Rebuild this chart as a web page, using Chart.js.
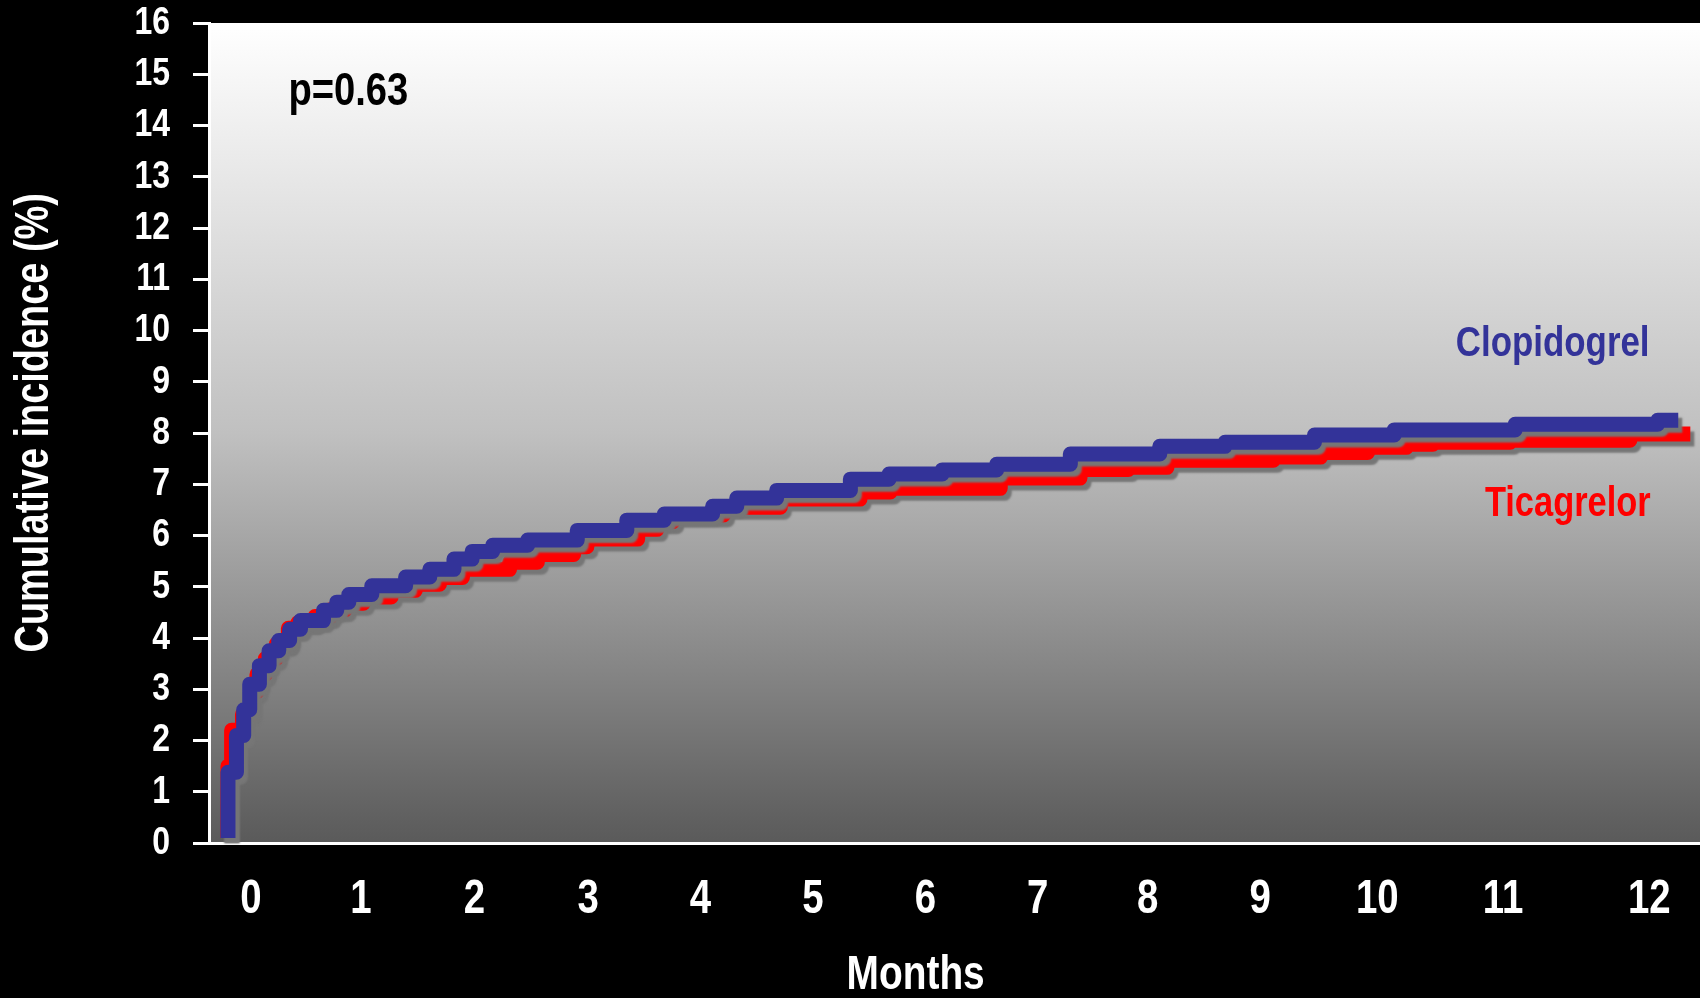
<!DOCTYPE html>
<html>
<head>
<meta charset="utf-8">
<script src="https://cdn.jsdelivr.net/npm/chart.js@4.4.1/dist/chart.umd.min.js"></script>
<style>
  html, body { margin: 0; padding: 0; background: #000; }
  canvas { display: block; }
</style>
</head>
<body>
<canvas id="kmChart" width="1700" height="998"></canvas>
<script>
// tick labels on the x axis and where the slide put them (in months)
const monthLabels = ['0', '1', '2', '3', '4', '5', '6', '7', '8', '9', '10', '11', '12'];
const monthTickAt = [0.19, 1.10, 2.04, 2.98, 3.91, 4.84, 5.77, 6.70, 7.61, 8.54, 9.51, 10.55, 11.76];

// Kaplan-Meier steps: month of step, cumulative incidence (%)
const clopidogrelMonths = [0, 0, 0.07, 0.13, 0.18, 0.26, 0.34, 0.42, 0.51, 0.60, 0.79, 0.90, 1.00, 1.19, 1.47, 1.67, 1.87, 2.02, 2.19, 2.48, 2.89, 3.30, 3.61, 4.01, 4.21, 4.54, 5.15, 5.47, 5.91, 6.36, 6.97, 7.71, 8.25, 8.99, 9.65, 10.65, 11.83, 12.0];
const clopidogrelPct = [0.1, 1.38, 2.10, 2.60, 3.10, 3.46, 3.75, 3.95, 4.17, 4.34, 4.54, 4.70, 4.85, 5.02, 5.19, 5.34, 5.54, 5.69, 5.81, 5.91, 6.10, 6.30, 6.42, 6.57, 6.73, 6.88, 7.10, 7.20, 7.28, 7.39, 7.59, 7.74, 7.82, 7.96, 8.06, 8.17, 8.25, 8.25];

const ticagrelorMonths = [0, 0, 0.03, 0.12, 0.19, 0.24, 0.31, 0.40, 0.50, 0.58, 0.72, 0.85, 0.97, 1.12, 1.35, 1.55, 1.75, 1.94, 2.33, 2.56, 2.86, 2.97, 3.39, 3.55, 3.68, 4.10, 4.57, 5.23, 5.48, 6.39, 7.05, 7.45, 7.77, 8.65, 9.04, 9.43, 9.75, 9.97, 10.61, 11.60, 12.10];
const ticagrelorPct = [0.1, 1.50, 2.20, 2.51, 2.95, 3.29, 3.60, 3.88, 4.19, 4.30, 4.42, 4.55, 4.68, 4.80, 4.93, 5.05, 5.18, 5.34, 5.48, 5.63, 5.78, 5.93, 6.12, 6.27, 6.40, 6.55, 6.71, 6.85, 6.92, 7.12, 7.29, 7.33, 7.47, 7.53, 7.62, 7.72, 7.78, 7.82, 7.86, 7.98, 7.98];

const fontFamily = "'Liberation Sans', Arial, sans-serif";

const toPoints = (xs, ys) => xs.map((x, i) => ({ x: x, y: ys[i] }));

// no narrow face installed, so squeeze bold Liberation Sans sideways
const narrowText = (ctx, text, x, y, size, color, align, sx, rot) => {
  ctx.save();
  ctx.translate(x, y);
  if (rot) ctx.rotate(rot);
  ctx.scale(sx, 1);
  ctx.font = `bold ${size}px ${fontFamily}`;
  ctx.fillStyle = color;
  ctx.textAlign = align;
  ctx.textBaseline = 'middle';
  ctx.fillText(text, 0, 0);
  ctx.restore();
};

// black slide + grey gradient behind the plot
const backdrop = {
  id: 'backdrop',
  beforeDraw(chart) {
    const { ctx, chartArea: a } = chart;
    ctx.save();
    ctx.fillStyle = '#000';
    ctx.fillRect(0, 0, chart.width, chart.height);
    const g = ctx.createLinearGradient(0, a.top, 0, a.bottom);
    g.addColorStop(0, '#ffffff');
    g.addColorStop(0.5, '#c0c0c0');
    g.addColorStop(1, '#5a5a5a');
    ctx.fillStyle = g;
    ctx.fillRect(a.left, a.top, a.right - a.left, a.bottom - a.top);
    ctx.restore();
  }
};

// grey drop shadow under each curve
const lineShadow = {
  id: 'lineShadow',
  beforeDatasetDraw(chart) {
    const ctx = chart.ctx;
    ctx.save();
    ctx.shadowColor = '#767676';
    ctx.shadowOffsetX = 4;
    ctx.shadowOffsetY = 5;
    ctx.shadowBlur = 2;
  },
  afterDatasetDraw(chart) {
    chart.ctx.restore();
  }
};

// axis labels and titles, placed from the scales
const axisText = {
  id: 'axisText',
  afterDraw(chart) {
    const { ctx, scales: { x, y } } = chart;
    y.ticks.forEach((t) => {
      narrowText(ctx, String(t.value), y.right - 39, y.getPixelForValue(t.value), 39, '#fff', 'right', 0.82);
    });
    x.ticks.forEach((t, i) => {
      narrowText(ctx, monthLabels[i], x.getPixelForValue(t.value), x.top + 57, 48, '#fff', 'center', 0.8);
    });
    narrowText(ctx, 'Months', x.getPixelForValue(5.69), x.top + 133, 48, '#fff', 'center', 0.81);
    narrowText(ctx, 'Cumulative incidence (%)', 35, y.getPixelForValue(8.2), 48, '#fff', 'center', 0.79, -Math.PI / 2);
  }
};

const notes = {
  id: 'notes',
  afterDatasetsDraw(chart) {
    const { ctx, scales: { x, y } } = chart;
    narrowText(ctx, 'p=0.63', x.getPixelForValue(0.5), y.getPixelForValue(14.65), 46, '#000', 'left', 0.83);
    narrowText(ctx, 'Clopidogrel', x.getPixelForValue(10.16), y.getPixelForValue(9.73), 42, '#333399', 'left', 0.83);
    narrowText(ctx, 'Ticagrelor', x.getPixelForValue(10.40), y.getPixelForValue(6.60), 42, '#ff0000', 'left', 0.82);
  }
};

const data = {
  datasets: [
    {
      label: 'Clopidogrel',
      data: toPoints(clopidogrelMonths, clopidogrelPct),
      borderColor: '#333399',
      borderWidth: 15,
      stepped: 'before',
      borderCapStyle: 'butt',
      borderJoinStyle: 'round',
      pointRadius: 0,
      clip: 20,
    },
    {
      label: 'Ticagrelor',
      data: toPoints(ticagrelorMonths, ticagrelorPct),
      borderColor: '#ff0000',
      borderWidth: 15,
      stepped: 'before',
      borderCapStyle: 'butt',
      borderJoinStyle: 'round',
      pointRadius: 0,
      clip: 20,
    },
  ],
};

const config = {
  type: 'line',
  data: data,
  plugins: [backdrop, lineShadow, notes, axisText],
  options: {
    responsive: false,
    animation: false,
    devicePixelRatio: 1,
    layout: { padding: { top: 23, left: 0, right: 0, bottom: 0 } },
    plugins: { legend: { display: false }, tooltip: { enabled: false } },
    scales: {
      x: {
        type: 'linear',
        min: -0.157,
        max: 12.18,
        afterBuildTicks: (scale) => {
          scale.ticks = monthTickAt.map((v) => ({ value: v }));
        },
        afterFit: (scale) => { scale.height = 155; },
        grid: { display: false, drawTicks: false },
        border: { display: true, color: '#fff', width: 3 },
        ticks: { display: false, autoSkip: false },
        title: { display: false, text: 'Months' },
      },
      y: {
        min: 0,
        max: 16,
        afterFit: (scale) => { scale.width = 209; },
        grid: { drawOnChartArea: false, drawTicks: true, tickLength: 16, color: '#fff', lineWidth: 3 },
        border: { display: true, color: '#fff', width: 3 },
        ticks: { display: false, stepSize: 1 },
        title: { display: false, text: 'Cumulative incidence (%)' },
      },
    },
  },
};

const kmChart = new Chart(document.getElementById('kmChart'), config);
</script>
</body>
</html>
